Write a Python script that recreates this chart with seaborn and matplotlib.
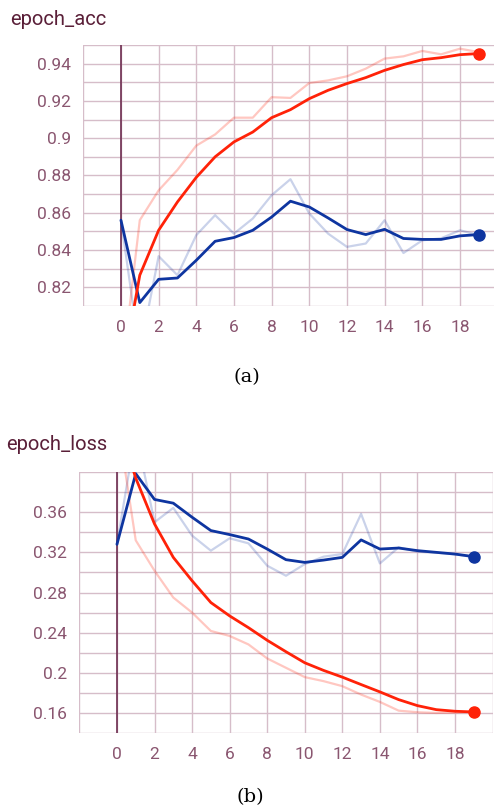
import numpy as np
import pandas as pd
import matplotlib
matplotlib.use("Agg")
import matplotlib.pyplot as plt
import seaborn as sns
from matplotlib.ticker import MultipleLocator, FuncFormatter

# values
epochs = list(range(20))

acc_train_raw = [0.77, 0.856, 0.872, 0.883, 0.896, 0.902, 0.911, 0.911, 0.922, 0.9216,
                 0.9296, 0.931, 0.9332, 0.9373, 0.9427, 0.9439, 0.9468, 0.945, 0.948, 0.9462]
acc_train_smooth = [0.77, 0.8265, 0.8506, 0.8658, 0.879, 0.890, 0.898, 0.9033, 0.911, 0.9153,
                    0.9212, 0.9257, 0.9293, 0.9325, 0.9364, 0.9395, 0.9421, 0.9432, 0.9448, 0.9454]
acc_val_raw = [0.856, 0.785, 0.8367, 0.8265, 0.848, 0.8587, 0.8488, 0.8569, 0.8694, 0.878,
               0.8596, 0.8488, 0.8417, 0.8435, 0.856, 0.8384, 0.8452, 0.8463, 0.8506, 0.848]
acc_val_smooth = [0.856, 0.8118, 0.8243, 0.825, 0.8345, 0.8447, 0.8467, 0.8506, 0.8577, 0.8662,
                  0.8631, 0.8572, 0.851, 0.8483, 0.8511, 0.8462, 0.8457, 0.8457, 0.8476, 0.8483]

loss_train_raw = [0.455, 0.332, 0.3017, 0.275, 0.26, 0.2417, 0.2367, 0.2283, 0.2143, 0.205,
                  0.1957, 0.1917, 0.1867, 0.1783, 0.171, 0.1623, 0.1607, 0.160, 0.1603, 0.161]
loss_train_smooth = [0.455, 0.394, 0.3483, 0.315, 0.2917, 0.27, 0.2567, 0.245, 0.2324, 0.221,
                     0.21, 0.2024, 0.1957, 0.1883, 0.181, 0.1733, 0.1673, 0.1633, 0.1617, 0.161]
loss_val_raw = [0.328, 0.44, 0.35, 0.3643, 0.3367, 0.3217, 0.334, 0.329, 0.3067, 0.2967,
                0.3083, 0.3157, 0.3183, 0.3583, 0.309, 0.325, 0.3207, 0.3197, 0.318, 0.3157]
loss_val_smooth = [0.328, 0.3984, 0.3727, 0.369, 0.355, 0.3417, 0.3377, 0.3333, 0.3233, 0.3127,
                   0.31, 0.3123, 0.315, 0.3324, 0.3233, 0.3243, 0.3217, 0.32, 0.3183, 0.3157]

red = '#ff2208'
blue = '#0e35a0'
grid_col = '#d6bdc9'
label_col = '#8a5670'
title_col = '#5a1f38'

sns.set_theme(style="white")
plt.rcParams['font.family'] = ['Roboto', 'DejaVu Sans']


def draw_panel(ax, tr_raw, tr_sm, va_raw, va_sm, ylim, ymajor, yminor):
    df = pd.DataFrame({'epoch': epochs, 'tr_raw': tr_raw, 'tr_sm': tr_sm,
                       'va_raw': va_raw, 'va_sm': va_sm})
    # faint raw curves first, then smoothed on top
    sns.lineplot(data=df, x='epoch', y='va_raw', ax=ax, color=blue, alpha=0.22, lw=1.6)
    sns.lineplot(data=df, x='epoch', y='tr_raw', ax=ax, color=red, alpha=0.25, lw=1.6)
    sns.lineplot(data=df, x='epoch', y='va_sm', ax=ax, color=blue, lw=2.0)
    sns.lineplot(data=df, x='epoch', y='tr_sm', ax=ax, color=red, lw=2.0)
    ax.plot(df['epoch'].iloc[-1], df['va_sm'].iloc[-1], 'o', color=blue, ms=8, clip_on=False, zorder=5)
    ax.plot(df['epoch'].iloc[-1], df['tr_sm'].iloc[-1], 'o', color=red, ms=8, clip_on=False, zorder=5)

    ax.axvline(0, color='#6e2d50', lw=1.2, zorder=1)
    ax.set_xlim(-2, 20)
    ax.set_ylim(*ylim)
    top_label = ylim[1] - yminor / 2
    ax.xaxis.set_major_locator(MultipleLocator(2))
    ax.yaxis.set_major_locator(MultipleLocator(ymajor))
    ax.yaxis.set_minor_locator(MultipleLocator(yminor))
    ax.xaxis.set_major_formatter(FuncFormatter(lambda v, p: '%d' % v if 0 <= v <= 18 else ''))
    ax.yaxis.set_major_formatter(FuncFormatter(
        lambda v, p: '%g' % round(v, 3) if ylim[0] + 1e-6 < v < top_label else ''))
    ax.grid(True, which='both', color=grid_col, lw=1.0)
    ax.tick_params(axis='both', which='both', length=5, width=1.0, color=grid_col,
                   labelcolor=label_col, labelsize=12.5, direction='out')
    ax.tick_params(axis='x', pad=5)
    ax.tick_params(axis='y', pad=4)
    for s in ax.spines.values():
        s.set_visible(False)
    ax.set_xlabel('')
    ax.set_ylabel('')


fig = plt.figure(figsize=(4.94, 8.09), dpi=100)

ax1 = fig.add_axes([0.1686, 0.6218, 0.8387, 0.3226])
draw_panel(ax1, acc_train_raw, acc_train_smooth, acc_val_raw, acc_val_smooth,
           (0.81, 0.95), 0.02, 0.01)
fig.text(0.02, 0.976, 'epoch_acc', color=title_col, fontsize=14.5, va='center', ha='left')
fig.text(0.5, 1 - 377 / 809, '(a)', color='black', fontsize=14, ha='center', va='center',
         family='DejaVu Serif')

ax2 = fig.add_axes([0.1607, 0.0939, 0.8364, 0.3226])
draw_panel(ax2, loss_train_raw, loss_train_smooth, loss_val_raw, loss_val_smooth,
           (0.14, 0.40), 0.04, 0.02)
fig.text(0.012, 1 - 445 / 809, 'epoch_loss', color=title_col, fontsize=14.5, va='center', ha='left')
fig.text(0.506, 1 - 797 / 809, '(b)', color='black', fontsize=14, ha='center', va='center',
         family='DejaVu Serif')

fig.savefig('out.png', dpi=100)
